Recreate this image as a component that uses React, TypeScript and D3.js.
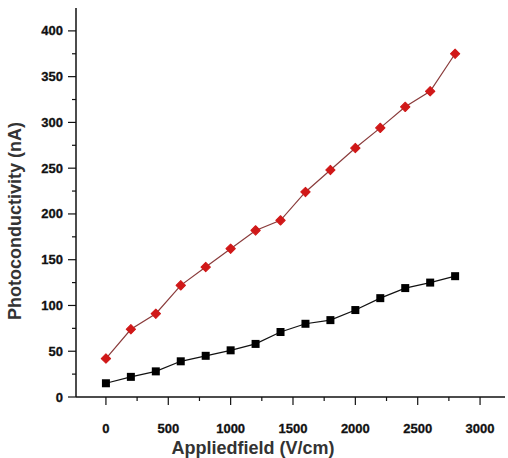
import React, { useEffect, useRef } from 'react'
import * as d3 from 'd3'

const fieldValues = [0, 200, 400, 600, 800, 1000, 1200, 1400, 1600, 1800, 2000, 2200, 2400, 2600, 2800]
const redSeries = [42, 74, 91, 122, 142, 162, 182, 193, 224, 248, 272, 294, 317, 334, 375]
const blackSeries = [15, 22, 28, 39, 45, 51, 58, 71, 80, 84, 95, 108, 119, 125, 132]
const xTicks = [0, 500, 1000, 1500, 2000, 2500, 3000]
const yTicks = [0, 50, 100, 150, 200, 250, 300, 350, 400]

const width = 508
const height = 458

export default function App() {
  const svgRef = useRef<SVGSVGElement | null>(null)

  useEffect(() => {
    const svg = d3.select(svgRef.current)
    svg.selectAll('*').remove()

    const x = d3.scaleLinear().domain([-240, 3200]).range([76, 505])
    const y = d3.scaleLinear().domain([0, 425]).range([397, 8])
    const font = 'Arial, "Liberation Sans", sans-serif'

    // axis lines
    svg.append('line').attr('x1', 76).attr('x2', 76).attr('y1', y(0)).attr('y2', 8)
      .attr('stroke', '#111').attr('stroke-width', 1.5)
    svg.append('line').attr('x1', 76).attr('x2', 505).attr('y1', y(0)).attr('y2', y(0))
      .attr('stroke', '#111').attr('stroke-width', 1.5)

    // x ticks
    const xMinor = d3.range(250, 3200, 500)
    svg.append('g').selectAll('line').data(xTicks).join('line')
      .attr('x1', d => x(d)).attr('x2', d => x(d)).attr('y1', y(0)).attr('y2', y(0) + 8)
      .attr('stroke', '#111').attr('stroke-width', 1.2)
    svg.append('g').selectAll('line').data(xMinor).join('line')
      .attr('x1', d => x(d)).attr('x2', d => x(d)).attr('y1', y(0)).attr('y2', y(0) + 4)
      .attr('stroke', '#111').attr('stroke-width', 1.2)
    svg.append('g').selectAll('text').data(xTicks).join('text')
      .attr('x', d => x(d)).attr('y', 433)
      .attr('text-anchor', 'middle').attr('font-family', font).attr('font-weight', 'bold')
      .attr('font-size', 13).attr('fill', '#111').attr('stroke', '#111').attr('stroke-width', 0.3)
      .text(d => String(d))

    // y ticks
    const yMinor = d3.range(25, 425, 50)
    svg.append('g').selectAll('line').data(yTicks).join('line')
      .attr('x1', 68).attr('x2', 76).attr('y1', d => y(d)).attr('y2', d => y(d))
      .attr('stroke', '#111').attr('stroke-width', 1.2)
    svg.append('g').selectAll('line').data(yMinor).join('line')
      .attr('x1', 72).attr('x2', 76).attr('y1', d => y(d)).attr('y2', d => y(d))
      .attr('stroke', '#111').attr('stroke-width', 1.2)
    svg.append('g').selectAll('text').data(yTicks).join('text')
      .attr('x', 63).attr('y', d => y(d) + 4.5)
      .attr('text-anchor', 'end').attr('font-family', font).attr('font-weight', 'bold')
      .attr('font-size', 13).attr('fill', '#111').attr('stroke', '#111').attr('stroke-width', 0.3)
      .text(d => String(d))

    // axis titles
    svg.append('text').attr('x', 253).attr('y', 454)
      .attr('text-anchor', 'middle').attr('font-family', font).attr('font-weight', 'bold')
      .attr('font-size', 18).attr('fill', '#333')
      .text('Appliedfield (V/cm)')
    svg.append('text').attr('transform', 'translate(21,221) rotate(-90)')
      .attr('text-anchor', 'middle').attr('font-family', font).attr('font-weight', 'bold')
      .attr('font-size', 18).attr('fill', '#333')
      .text('Photoconductivity (nA)')

    const line = d3.line<number>().x((_, i) => x(fieldValues[i])).y(d => y(d))

    // black series
    svg.append('path').datum(blackSeries).attr('d', line)
      .attr('fill', 'none').attr('stroke', '#111').attr('stroke-width', 1.2)
    svg.append('g').selectAll('rect').data(blackSeries).join('rect')
      .attr('x', (_, i) => x(fieldValues[i]) - 4).attr('y', d => y(d) - 4)
      .attr('width', 8).attr('height', 8).attr('fill', '#000')

    // red series
    svg.append('path').datum(redSeries).attr('d', line)
      .attr('fill', 'none').attr('stroke', '#8a3b3b').attr('stroke-width', 1.2)
    const diamond = d3.symbol().type(d3.symbolSquare).size(44)
    svg.append('g').selectAll('path').data(redSeries).join('path')
      .attr('d', diamond)
      .attr('transform', (d, i) => `translate(${x(fieldValues[i])},${y(d)}) rotate(45)`)
      .attr('fill', '#d01818').attr('stroke', '#d01818').attr('stroke-width', 1).attr('stroke-linejoin', 'round')
  }, [])

  return (
    <div style={{ position: 'absolute', left: 0, top: 0 }}>
      <svg ref={svgRef} width={width} height={height} style={{ display: 'block', background: '#fff' }}></svg>
    </div>
  )
}
